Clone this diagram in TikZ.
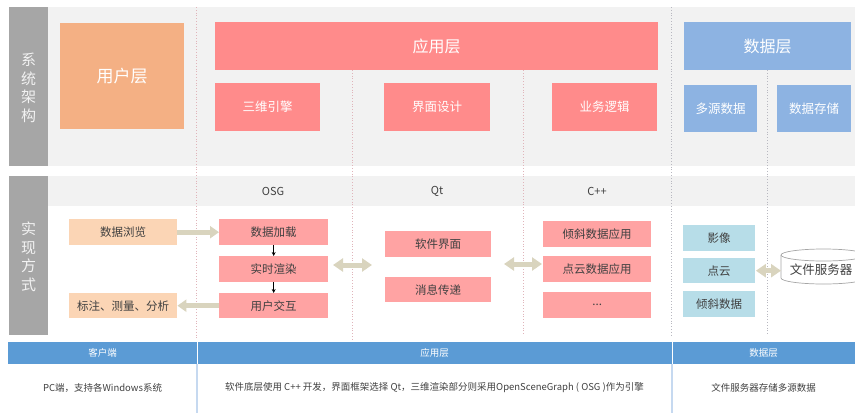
\documentclass[tikz,border=0pt]{standalone}
\usepackage{fontspec}
\setmainfont{Noto Sans CJK SC}
\usetikzlibrary{arrows.meta}
\definecolor{labgray}{HTML}{A6A6A6}
\definecolor{bggray}{HTML}{F2F2F2}
\definecolor{orangeT}{HTML}{F4B084}
\definecolor{redT}{HTML}{FF8B8B}
\definecolor{blueT}{HTML}{8DB3E2}
\definecolor{orangeL}{HTML}{FBD5B5}
\definecolor{pinkL}{HTML}{FFA3A3}
\definecolor{blueL}{HTML}{B7DDE8}
\definecolor{arrowc}{HTML}{D9D4BE}
\definecolor{hdrblue}{HTML}{5B9BD5}
\definecolor{txt}{HTML}{404040}
\definecolor{dotpink}{HTML}{E0B4BA}
\definecolor{dotgray}{HTML}{B8B8C0}
\definecolor{tblline}{HTML}{C6D9F0}
\tikzset{
  box/.style={rectangle, inner sep=0pt, anchor=north west},
  topbox/.style={box, text=white},
  midbox/.style={box, text=txt, font=\fontsize{11.5}{13}\selectfont},
  fat/.style={draw=arrowc, line width=5pt, -{Triangle[length=9pt,width=12pt]}},
  fatboth/.style={draw=arrowc, line width=5pt, {Triangle[length=10pt,width=13pt]}-{Triangle[length=10pt,width=13pt]}},
  thin/.style={draw=black, line width=0.6pt, -{Stealth[length=4pt,width=4pt]}},
  sep1/.style={draw=dotpink, dotted, line width=0.8pt},
  sep2/.style={draw=dotgray, dotted, line width=0.8pt},
}
\begin{document}
\begin{tikzpicture}[x=1pt,y=-1pt]
\useasboundingbox (0,0) rectangle (855,413);
% backgrounds
\fill[bggray] (48,7) rectangle (855,166);
\fill[bggray] (48,176) rectangle (855,206);
\node[box, fill=labgray, minimum width=39pt, minimum height=159pt] (lab1) at (9,7) {};
\node[box, fill=labgray, minimum width=39pt, minimum height=159pt] (lab2) at (9,176) {};
\node[text=white!90!gray, align=center, font=\fontsize{15}{18.5}\selectfont] (lab1t) at (28.5,88) {系\\统\\架\\构};
\node[text=white!90!gray, align=center, font=\fontsize{15}{18.5}\selectfont] (lab2t) at (28.5,257) {实\\现\\方\\式};
% separators
\draw[sep1] (196,7) -- (196,339);
\draw[sep1] (352,70) -- (352,339);
\draw[sep1] (523,70) -- (523,335);
\draw[sep2] (671,7) -- (671,335);
\draw[sep2] (767,70) -- (767,335);
% top row
\node[topbox, fill=orangeT, minimum width=124pt, minimum height=106pt, font=\fontsize{17}{20}\selectfont] (user) at (60,23) {用户层};
\node[topbox, fill=redT, minimum width=443pt, minimum height=48pt, font=\fontsize{16}{19}\selectfont] (app) at (215,22) {应用层};
\node[topbox, fill=blueT, minimum width=167pt, minimum height=48pt, font=\fontsize{16}{19}\selectfont] (data) at (684,22) {数据层};
\node[topbox, fill=redT, minimum width=105pt, minimum height=48pt, font=\fontsize{12.5}{15}\selectfont] (engine) at (215,83) {三维引擎};
\node[topbox, fill=redT, minimum width=106pt, minimum height=48pt, font=\fontsize{12.5}{15}\selectfont] (ui) at (384,83) {界面设计};
\node[topbox, fill=redT, minimum width=105pt, minimum height=48pt, font=\fontsize{12.5}{15}\selectfont] (logic) at (552,83) {业务逻辑};
\node[topbox, fill=blueT, minimum width=73pt, minimum height=47pt, font=\fontsize{12.5}{15}\selectfont] (multi) at (684,85) {多源数据};
\node[topbox, fill=blueT, minimum width=74pt, minimum height=47pt, font=\fontsize{12.5}{15}\selectfont] (store) at (777,85) {数据存储};
% headers
\node[text=txt, font=\fontsize{11}{13}\selectfont] (hosg) at (273,191) {OSG};
\node[text=txt, font=\fontsize{11}{13}\selectfont] (hqt) at (437,191) {Qt};
\node[text=txt, font=\fontsize{11}{13}\selectfont] (hcpp) at (597,191) {C++};
% middle boxes
\node[midbox, fill=orangeL, minimum width=108pt, minimum height=26pt] (browse) at (69,219) {数据浏览};
\node[midbox, fill=orangeL, minimum width=108pt, minimum height=25pt] (mark) at (69,293) {标注、测量、分析};
\node[midbox, fill=pinkL, minimum width=109pt, minimum height=26pt] (load) at (219,219) {数据加载};
\node[midbox, fill=pinkL, minimum width=109pt, minimum height=26pt] (render) at (219,256) {实时渲染};
\node[midbox, fill=pinkL, minimum width=109pt, minimum height=25pt] (inter) at (219,293) {用户交互};
\node[midbox, fill=pinkL, minimum width=106pt, minimum height=26pt] (soft) at (385,231) {软件界面};
\node[midbox, fill=pinkL, minimum width=106pt, minimum height=25pt] (msg) at (385,277) {消息传递};
\node[midbox, fill=pinkL, minimum width=108pt, minimum height=26pt] (tilt) at (543,221) {倾斜数据应用};
\node[midbox, fill=pinkL, minimum width=108pt, minimum height=26pt] (pcapp) at (543,256) {点云数据应用};
\node[midbox, fill=pinkL, minimum width=108pt, minimum height=26pt] (etc) at (543,292) {...};
\node[midbox, fill=blueL, minimum width=72pt, minimum height=26pt] (img) at (683,225) {影像};
\node[midbox, fill=blueL, minimum width=72pt, minimum height=25pt] (pc) at (683,258) {点云};
\node[midbox, fill=blueL, minimum width=72pt, minimum height=26pt] (tiltd) at (683,291) {倾斜数据};
% cylinder
\fill[white] (781,255) -- (781,278) arc[start angle=180,end angle=360,x radius=42.5pt,y radius=6pt] -- (866,255) -- cycle;
\draw[gray!70, line width=0.7pt] (781,255) -- (781,278) arc[start angle=180,end angle=360,x radius=42.5pt,y radius=6pt] -- (866,255);
\draw[gray!70, line width=0.7pt, fill=white] (823.5,255) ellipse [x radius=42.5pt, y radius=6pt];
\node[box, minimum width=85pt, minimum height=35pt, anchor=north west] (fs) at (781,249) {};
\node[text=txt, font=\fontsize{12.5}{15}\selectfont] (fst) at (821,270) {文件服务器};
% connectors
\draw[fat] (browse.east) -- (load.west);
\draw[fat] (inter.west) -- (mark.east);
\draw[thin] (load.south) -- (render.north);
\draw[thin] (render.south) -- (inter.north);
\coordinate (a1) at (333,265);
\coordinate (a2) at (372,265);
\coordinate (b1) at (504,264);
\coordinate (b2) at (542,264);
\draw[fatboth] (a1) -- (a2);
\draw[fatboth] (b1) -- (b2);
\draw[fatboth] ([xshift=0.5pt]pc.east) -- (pc.east -| fs.west);
% bottom table
\fill[hdrblue] (8,342) rectangle (855,364);
\draw[white, line width=1pt] (197,342) -- (197,364);
\draw[white, line width=1pt] (672,342) -- (672,364);
\draw[tblline, line width=1.5pt] (197,364) -- (197,413);
\draw[tblline, line width=1.5pt] (672,364) -- (672,413);
\node[text=white, font=\fontsize{9.5}{11}\selectfont] (t1) at (102.5,353) {客户端};
\node[text=white, font=\fontsize{9.5}{11}\selectfont] (t2) at (434.5,353) {应用层};
\node[text=white, font=\fontsize{9.5}{11}\selectfont] (t3) at (763.5,353) {数据层};
\node[text=txt, font=\fontsize{9.5}{11}\selectfont] (c1) at (102.5,388) {PC端，支持各Windows系统};
\node[text=txt, font=\fontsize{9.5}{11}\selectfont] (c2) at (434.5,388) {软件底层使用 C++ 开发，界面框架选择 Qt，三维渲染部分则采用OpenSceneGraph ( OSG )作为引擎};
\node[text=txt, font=\fontsize{9.5}{11}\selectfont] (c3) at (763.5,388) {文件服务器存储多源数据};
\end{tikzpicture}
\end{document}
